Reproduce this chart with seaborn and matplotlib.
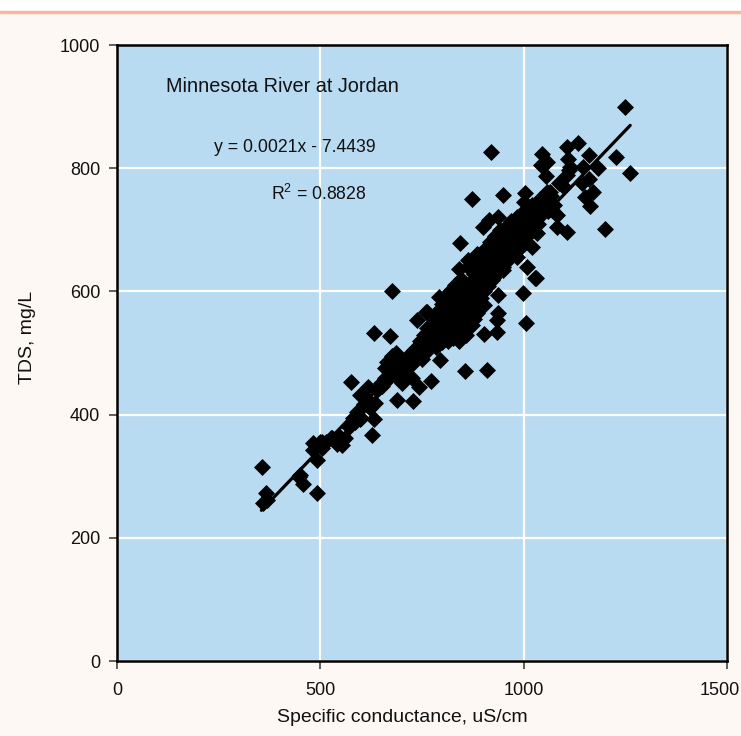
import numpy as np
import pandas as pd
import matplotlib
matplotlib.use("Agg")
import matplotlib.pyplot as plt
import matplotlib.transforms as mtrans
from matplotlib.lines import Line2D
import seaborn as sns

# ---- data ----
sc_low = [356, 366, 359, 368, 447, 457, 450, 492, 482, 492, 482, 499, 504, 529, 543, 541, 553,
          575, 597, 600, 617, 585, 597, 622, 627, 632, 634, 505, 515, 525, 535, 545, 560, 570,
          580, 590, 608, 615]
tds_low = [315, 273, 256, 262, 299, 287, 302, 273, 354, 326, 343, 356, 356, 362, 359, 353, 351,
           453, 432, 394, 445, 388, 393, 410, 367, 393, 419, 345, 355, 362, 360, 365, 362, 380,
           395, 405, 418, 425]

sc_mid = [640, 648, 652, 658, 662, 668, 672, 676, 680, 684, 688, 692, 696, 660, 665, 675, 685,
          690, 700, 715, 725, 688, 728, 743, 772, 794, 856, 910, 631, 671, 676, 738, 760, 762,
          792, 824, 934, 902, 937, 934, 937, 902, 1006, 998, 1028, 843, 885, 863, 841]
tds_mid = [440, 452, 446, 460, 455, 470, 462, 478, 468, 485, 472, 490, 478, 475, 485, 495, 500,
           460, 452, 465, 460, 424, 422, 445, 455, 489, 471, 472, 532, 528, 601, 554, 567, 567,
           591, 599, 534, 531, 565, 554, 594, 578, 549, 597, 622, 679, 661, 651, 636]

sc_core = [700, 705, 710, 712, 718, 720, 724, 728, 730, 733, 736, 740, 742, 745, 748, 750, 752,
           755, 757, 760, 762, 765, 768, 770, 772, 775, 778, 780, 782, 784, 786, 788, 790, 792,
           794, 796, 798, 800, 801, 803, 805, 806, 808, 810, 812, 813, 815, 816, 818, 820, 821,
           823, 824, 826, 828, 829, 830, 832, 833, 835, 836, 838, 840, 841, 843, 845, 846, 848,
           850, 852, 853, 855, 857, 858, 860, 862, 863, 865, 867, 868, 870, 872, 873, 875, 877,
           878, 880, 882, 884, 885, 887, 889, 890, 892, 894, 896, 898, 900, 902, 904, 906, 908,
           910, 912, 914, 916, 918, 920, 923, 925, 928, 930, 932, 935, 938, 940, 943, 945, 948,
           950, 953, 956, 958, 960, 963, 966, 968, 970, 973, 976, 980, 983, 986, 990, 993, 996,
           1000, 1004, 1008, 1012, 1016, 1020, 1024, 1030, 1036, 1040, 1046, 1052, 1060, 1068, 1075]
tds_core = [470, 482, 476, 490, 485, 498, 480, 492, 505, 488, 500, 512, 495, 520, 505, 490, 515,
            530, 500, 522, 540, 508, 528, 515, 545, 532, 520, 550, 538, 510, 560, 545, 528, 570,
            555, 540, 518, 580, 562, 548, 530, 590, 572, 556, 540, 520, 585, 568, 550, 600, 578,
            560, 542, 525, 590, 572, 555, 610, 535, 582, 565, 548, 598, 520, 575, 560, 620, 540,
            590, 570, 555, 605, 530, 585, 565, 640, 548, 598, 578, 560, 615, 545, 590, 570, 628,
            555, 605, 585, 650, 565, 620, 598, 575, 640, 610, 590, 660, 625, 600, 645, 615, 670,
            635, 608, 655, 625, 680, 645, 618, 665, 640, 690, 655, 630, 675, 650, 700, 665, 640,
            685, 660, 705, 675, 650, 690, 665, 715, 685, 660, 700, 680, 720, 695, 670, 710, 690,
            730, 705, 690, 720, 700, 740, 715, 730, 710, 750, 725, 745, 730, 755, 740]

sc_high = [1249, 920, 1106, 1133, 1045, 1057, 1042, 1109, 1114, 1160, 1227, 1261, 1146, 1183,
           1055, 1106, 1160, 1094, 1143, 1170, 1151, 1163, 1200, 1057, 1064, 1003, 1001, 949,
           873, 937, 915, 900, 971, 991, 1020, 1010, 1032, 1052, 1069, 1082, 1082, 1106, 1032,
           1008, 1030, 925, 949, 983, 961, 942, 917, 1111, 1087]
tds_high = [899, 826, 834, 841, 823, 810, 805, 815, 802, 821, 818, 792, 802, 800, 787, 789, 782,
            773, 776, 761, 753, 739, 701, 761, 761, 760, 745, 756, 750, 721, 716, 705, 695, 679,
            672, 716, 724, 737, 732, 724, 705, 696, 695, 640, 622, 622, 635, 656, 672, 662, 656,
            797, 776]

sc_all = sc_low + sc_mid + sc_core + sc_high
tds_all = tds_low + tds_mid + tds_core + tds_high

fit_slope = 0.689
fit_intercept = 0.0
fit_x = [355, 1262]

x_ticks = [0, 500, 1000, 1500]
y_ticks = [0, 200, 400, 600, 800, 1000]

title_text = "Minnesota River at Jordan"
eq_text = "y = 0.0021x - 7.4439"
r2_text = "R$^2$ = 0.8828"

df = pd.DataFrame({"sc": sc_all, "tds": tds_all})
fit_df = pd.DataFrame({"x": fit_x, "y": [fit_intercept + fit_slope * v for v in fit_x]})

# ---- style ----
sns.set_theme(style="white")
plt.rcParams["font.family"] = ["Liberation Sans", "DejaVu Sans"]
plt.rcParams["mathtext.fontset"] = "custom"
plt.rcParams["mathtext.rm"] = "Liberation Sans"

fig = plt.figure(figsize=(7.41, 7.36), dpi=100, facecolor="#fdf8f4")
ax = fig.add_axes([117 / 741, 1 - 661 / 736, 610 / 741, 616 / 736])
ax.set_facecolor("#b9dbf2")

# top band
fig.patches.append(plt.Rectangle((0, 1 - 11 / 736), 1, 11 / 736, transform=fig.transFigure,
                                 facecolor="white", edgecolor="none", zorder=0))
fig.add_artist(Line2D([0, 1], [1 - 11.5 / 736, 1 - 11.5 / 736], transform=fig.transFigure,
                      color="#f7b7a0", lw=2.5))

ax.set_xlim(0, 1500)
ax.set_ylim(0, 1000)
ax.set_xticks(x_ticks)
ax.set_yticks(y_ticks)
ax.grid(True, color="white", lw=1.6)
ax.set_axisbelow(True)

sns.scatterplot(data=df, x="sc", y="tds", marker="D", s=75, color="black",
                edgecolor="black", linewidth=0, ax=ax, zorder=3, clip_on=False)
sns.lineplot(data=fit_df, x="x", y="y", color="black", lw=2.3, ax=ax, zorder=4)

for sp in ax.spines.values():
    sp.set_color("black")
    sp.set_linewidth(1.8)

ax.tick_params(axis="both", which="major", direction="out", length=6, width=1.2,
               color="#444444", labelsize=13, labelcolor="#111111", bottom=True, left=True)
ax.tick_params(axis="x", pad=9)
ax.tick_params(axis="y", pad=6)

# last x tick label sits against the right edge of the picture
fig.canvas.draw()
last = ax.get_xticklabels()[-1]
last.set_transform(last.get_transform() + mtrans.ScaledTranslation(-7 / 100, 0, fig.dpi_scale_trans))

ax.set_xlabel("Specific conductance, uS/cm", fontsize=14, color="#111111")
ax.xaxis.set_label_coords((402 - 117) / 610, (661 - 718) / 616)
ax.xaxis.label.set_va("center")
ax.set_ylabel("TDS, mg/L", fontsize=14, color="#111111")
ax.yaxis.set_label_coords((27 - 117) / 610, (661 - 337) / 616)
ax.yaxis.label.set_va("center")

ax.text(408, 932, title_text, ha="center", va="center", fontsize=14.3, color="#111111")
ax.text(438, 834, eq_text, ha="center", va="center", fontsize=12.7, color="#111111")
ax.text(497, 758, r2_text, ha="center", va="center", fontsize=12.7, color="#111111")

fig.savefig("out.png", dpi=100, facecolor=fig.get_facecolor())
